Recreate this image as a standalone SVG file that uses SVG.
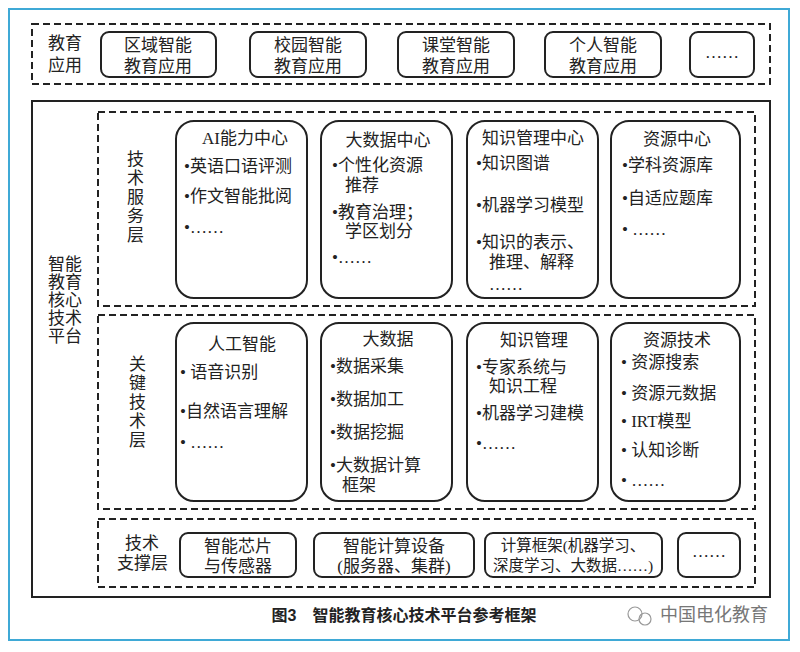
<svg xmlns="http://www.w3.org/2000/svg" width="800" height="652" viewBox="0 0 800 652">
<style>
text{font-family:"Liberation Serif","Noto Sans CJK SC",serif;font-size:17px;fill:#222}
.d{fill:none;stroke:#222;stroke-width:2;stroke-dasharray:7,4}
.b{fill:#fff;stroke:#222;stroke-width:2}
.c{text-anchor:middle}
.s{font-size:15.5px}
</style>
<rect x="0" y="0" width="800" height="652" fill="#fff"/>
<rect x="9" y="9" width="780" height="631" fill="none" stroke="#3fa9d6" stroke-width="2"/>
<g id="app-layer">
<rect class="d" x="32" y="24" width="738" height="60"/>
<text x="48" y="49">教育</text><text x="48" y="71">应用</text>
</g>
<g id="app1"><rect class="b" x="101" y="32" width="115" height="45" rx="8"/><text class="c" x="158" y="51">区域智能</text><text class="c" x="158" y="72">教育应用</text></g>
<g id="app2"><rect class="b" x="250" y="32" width="116" height="45" rx="8"/><text class="c" x="308" y="51">校园智能</text><text class="c" x="308" y="72">教育应用</text></g>
<g id="app3"><rect class="b" x="398" y="32" width="116" height="45" rx="8"/><text class="c" x="456" y="51">课堂智能</text><text class="c" x="456" y="72">教育应用</text></g>
<g id="app4"><rect class="b" x="545" y="32" width="116" height="45" rx="8"/><text class="c" x="603" y="51">个人智能</text><text class="c" x="603" y="72">教育应用</text></g>
<g id="app5"><rect class="b" x="690" y="32" width="64" height="45" rx="8"/><text class="c" x="722" y="58">……</text></g>

<g id="platform">
<rect x="32" y="101" width="738" height="496" fill="none" stroke="#222" stroke-width="2"/>
<text x="48" y="270">智能</text><text x="48" y="288">教育</text><text x="48" y="306">核心</text><text x="48" y="324">技术</text><text x="48" y="342">平台</text>
</g>
<g id="service-layer">
<rect class="d" x="98" y="112" width="657" height="194"/>
<text x="127" y="165">技</text><text x="127" y="184">术</text><text x="127" y="203">服</text><text x="127" y="222">务</text><text x="127" y="241">层</text>
</g>
<g id="s1"><rect class="b" x="176" y="121" width="131" height="177" rx="18"/>
<text class="c" x="245" y="144">AI能力中心</text>
<text x="184" y="172">•英语口语评测</text><text x="184" y="202">•作文智能批阅</text><text x="184" y="233">•……</text></g>
<g id="s2"><rect class="b" x="321" y="121" width="131" height="177" rx="18"/>
<text class="c" x="388" y="146">大数据中心</text>
<text x="332" y="171">•个性化资源</text><text x="345" y="191">推荐</text><text x="332" y="218">•教育治理；</text><text x="345" y="237">学区划分</text><text x="332" y="263">•……</text></g>
<g id="s3"><rect class="b" x="467" y="121" width="131" height="177" rx="18"/>
<text class="c" x="533" y="144">知识管理中心</text>
<text x="476" y="169">•知识图谱</text><text x="476" y="211">•机器学习模型</text><text x="476" y="248">•知识的表示、</text><text x="489" y="268">推理、解释</text><text x="489" y="290">……</text></g>
<g id="s4"><rect class="b" x="611" y="121" width="129" height="177" rx="18"/>
<text class="c" x="677" y="145">资源中心</text>
<text x="622" y="171">•学科资源库</text><text x="622" y="204">•自适应题库</text><text x="622" y="235">• ……</text></g>

<g id="key-layer">
<rect class="d" x="98" y="315" width="657" height="194"/>
<text x="129" y="370">关</text><text x="129" y="389">键</text><text x="129" y="408">技</text><text x="129" y="427">术</text><text x="129" y="446">层</text>
</g>
<g id="k1"><rect class="b" x="176" y="323" width="131" height="178" rx="18"/>
<text class="c" x="242" y="350">人工智能</text>
<text x="180" y="378">• 语音识别</text><text x="180" y="417">•自然语言理解</text><text x="180" y="448">• ……</text></g>
<g id="k2"><rect class="b" x="321" y="323" width="131" height="178" rx="18"/>
<text class="c" x="388" y="345">大数据</text>
<text x="330" y="372">•数据采集</text><text x="330" y="405">•数据加工</text><text x="330" y="438">•数据挖掘</text><text x="330" y="471">•大数据计算</text><text x="342" y="491">框架</text></g>
<g id="k3"><rect class="b" x="467" y="323" width="131" height="178" rx="18"/>
<text class="c" x="534" y="346">知识管理</text>
<text x="476" y="373">•专家系统与</text><text x="489" y="392">知识工程</text><text x="476" y="419">•机器学习建模</text><text x="476" y="449">•……</text></g>
<g id="k4"><rect class="b" x="611" y="323" width="129" height="178" rx="18"/>
<text class="c" x="677" y="346">资源技术</text>
<text x="621" y="368">• 资源搜索</text><text x="621" y="399">• 资源元数据</text><text x="621" y="427">• IRT模型</text><text x="621" y="456">• 认知诊断</text><text x="621" y="486">• ……</text></g>

<g id="support-layer">
<rect class="d" x="98" y="519" width="657" height="68"/>
<text x="125" y="549">技术</text><text x="117" y="569">支撑层</text>
</g>
<g id="p1"><rect class="b" x="180" y="533" width="116" height="44" rx="8"/><text class="c" x="238" y="552">智能芯片</text><text class="c" x="238" y="572">与传感器</text></g>
<g id="p2"><rect class="b" x="314" y="533" width="160" height="44" rx="8"/><text class="c" x="394" y="552">智能计算设备</text><text class="c" x="394" y="572">(服务器、集群)</text></g>
<g id="p3"><rect class="b" x="485" y="533" width="177" height="44" rx="8"/><text class="c s" x="573" y="551">计算框架(机器学习、</text><text class="c s" x="573" y="571">深度学习、大数据……)</text></g>
<g id="p4"><rect class="b" x="678" y="533" width="62" height="44" rx="8"/><text class="c" x="709" y="557">……</text></g>

<g id="connectors"></g>
<text class="c" x="404" y="621" style="font-family:'Liberation Sans','Noto Sans CJK SC',sans-serif;font-size:16px;font-weight:bold">图3　智能教育核心技术平台参考框架</text>
<text x="660" y="621" style="font-family:'Noto Sans CJK SC',sans-serif;font-size:18px;fill:#777">中国电化教育</text>
<circle cx="635" cy="614" r="7" fill="none" stroke="#999" stroke-width="1.2"/>
<circle cx="645" cy="619" r="6" fill="none" stroke="#999" stroke-width="1.2"/>
</svg>
